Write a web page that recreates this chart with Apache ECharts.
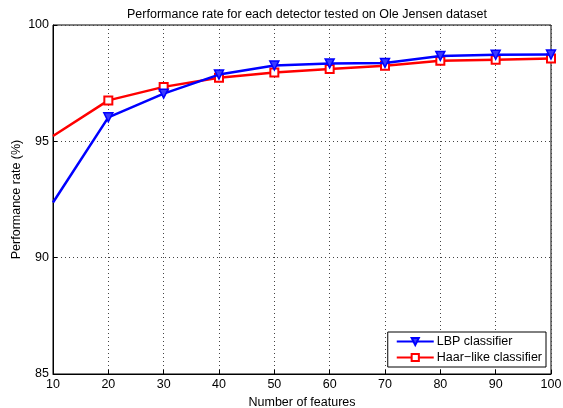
<!DOCTYPE html>
<html>
<head>
<meta charset="utf-8">
<script src="https://cdn.jsdelivr.net/npm/echarts@6/dist/echarts.min.js"></script>
<style>
  html, body { margin: 0; padding: 0; background: #fff; }
  #main { width: 563px; height: 408px; }
</style>
</head>
<body>
<div id="main"></div>
<script>
// number of features
var features = [10, 20, 30, 40, 50, 60, 70, 80, 90, 100]
// performance rate (%)
var lbpRate = [92.37, 96.03, 97.05, 97.87, 98.26, 98.35, 98.37, 98.67, 98.72, 98.73]
var haarRate = [95.23, 96.76, 97.34, 97.73, 97.96, 98.11, 98.25, 98.46, 98.51, 98.56]

var seriesNames = ['LBP classifier', 'Haar\u2212like classifier']

// first point sits on the y axis and shows no marker in the original
function pairs (xs, ys) {
  return xs.map(function (x, i) {
    var item = { value: [x, ys[i]] }
    if (i === 0) item.symbol = 'none'
    return item
  })
}

var font = 'Liberation Sans, Arial, Helvetica, sans-serif'
var chart = echarts.init(document.getElementById('main'))

var option = {
  animation: false,
  backgroundColor: '#fff',
  textStyle: { fontFamily: font },
  title: {
    text: 'Performance rate for each detector tested on Ole Jensen dataset',
    left: 302,
    textAlign: 'center',
    top: 3,
    textStyle: { fontSize: 12.5, fontWeight: 'normal', color: '#000', fontFamily: font }
  },
  grid: {
    left: 53, right: 12, top: 25, bottom: 34,
    outerBoundsMode: 'none',
    containLabel: false,
    show: true, borderColor: '#000', borderWidth: 1
  },
  legend: {
    data: seriesNames,
    orient: 'vertical',
    right: 17,
    bottom: 41,
    itemWidth: 37,
    itemHeight: 9,
    itemGap: 3,
    padding: [3, 4, 3, 8],
    backgroundColor: '#fff',
    borderColor: '#000',
    borderWidth: 1,
    borderRadius: 0,
    textStyle: { fontSize: 12.5, color: '#000', fontFamily: font, padding: [0, 0, 0, -2] }
  },
  xAxis: {
    type: 'value',
    min: 10,
    max: 100,
    interval: 10,
    name: 'Number of features',
    nameLocation: 'middle',
    nameGap: 20,
    nameTextStyle: { fontSize: 12.5, color: '#000' },
    axisLine: { lineStyle: { color: '#000', width: 1 } },
    axisTick: { inside: true, length: 4, lineStyle: { color: '#000' } },
    axisLabel: { fontSize: 12.5, color: '#000', margin: 4 },
    splitLine: { show: true, lineStyle: { type: [1, 3], color: '#444', width: 1 } }
  },
  yAxis: {
    type: 'value',
    min: 85,
    max: 100,
    interval: 5,
    name: 'Performance rate (%)',
    nameLocation: 'middle',
    nameGap: 30,
    nameMoveOverlap: false,
    nameTextStyle: { fontSize: 12.5, color: '#000' },
    axisLine: { lineStyle: { color: '#000', width: 1 } },
    axisTick: { inside: true, length: 4, lineStyle: { color: '#000' } },
    axisLabel: { fontSize: 12.5, color: '#000', margin: 4 },
    splitLine: { show: true, lineStyle: { type: [1, 3], color: '#444', width: 1 } }
  },
  series: [
    {
      name: seriesNames[0],
      type: 'line',
      data: pairs(features, lbpRate),
      symbol: 'triangle',
      symbolRotate: 180,
      symbolSize: 9,
      showAllSymbol: true,
      lineStyle: { color: '#0000ff', width: 2.5 },
      itemStyle: { color: '#3a3aff', borderColor: '#0000ff', borderWidth: 1.5 },
      z: 3
    },
    {
      name: seriesNames[1],
      type: 'line',
      data: pairs(features, haarRate),
      symbol: 'emptyRect',
      symbolSize: 8,
      showAllSymbol: true,
      lineStyle: { color: '#ff0000', width: 2.5 },
      itemStyle: { color: '#ff0000', borderColor: '#ff0000', borderWidth: 2 },
      z: 2
    }
  ]
}

chart.setOption(option)
</script>
</body>
</html>
